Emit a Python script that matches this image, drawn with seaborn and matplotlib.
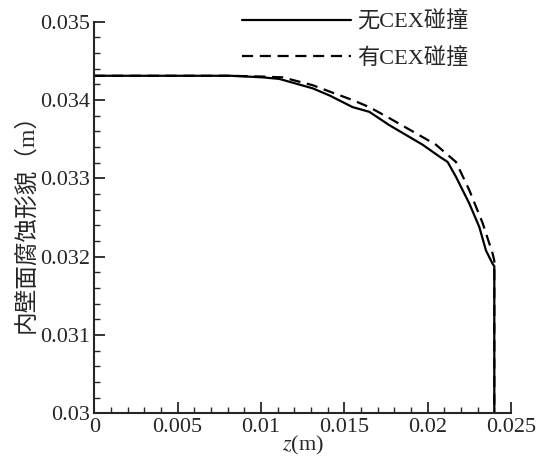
import numpy as np
import pandas as pd
import matplotlib
matplotlib.use("Agg")
import matplotlib.pyplot as plt
import seaborn as sns
from matplotlib.ticker import MultipleLocator, FuncFormatter

z_no = [0.0, 0.004, 0.0082, 0.0101, 0.0111, 0.0131, 0.0141, 0.0155, 0.0165, 0.0177,
        0.0189, 0.0197, 0.0207, 0.0212, 0.0217, 0.0225, 0.0231, 0.0235, 0.0239, 0.0240, 0.0240]
y_no = [0.03431, 0.03431, 0.03431, 0.03429, 0.03427, 0.03415, 0.03406, 0.03391, 0.03385, 0.03368,
        0.03353, 0.03343, 0.03328, 0.03321, 0.03302, 0.03268, 0.03238, 0.03208, 0.03191, 0.03188, 0.0300]

z_cex = [0.0, 0.004, 0.0082, 0.0101, 0.0113, 0.0131, 0.0141, 0.0155, 0.0165, 0.0177,
         0.0191, 0.0205, 0.0217, 0.0225, 0.0233, 0.0239, 0.0240, 0.0240]
y_cex = [0.03431, 0.03431, 0.03431, 0.0343, 0.03429, 0.03419, 0.03411, 0.03400, 0.03391, 0.03377,
         0.0336, 0.03343, 0.03321, 0.03285, 0.03243, 0.03204, 0.03195, 0.0300]

labels = ["无CEX碰撞", "有CEX碰撞"]

df = pd.concat([
    pd.DataFrame({"z": z_no, "y": y_no, "case": labels[0]}),
    pd.DataFrame({"z": z_cex, "y": y_cex, "case": labels[1]}),
])

sns.set_style("ticks")
fonts = ["Liberation Serif", "Noto Sans CJK SC", "DejaVu Sans"]
plt.rcParams["font.family"] = fonts
plt.rcParams["mathtext.fontset"] = "stix"
plt.rcParams["xtick.direction"] = "in"
plt.rcParams["ytick.direction"] = "in"

fig = plt.figure(figsize=(5.39, 4.62), dpi=100)
ax = fig.add_axes([0.175, 0.105, 0.773, 0.848])

sns.lineplot(data=df, x="z", y="y", hue="case", style="case",
             palette=["black", "black"], dashes=[(None, None), (5, 3)],
             sort=False, estimator=None, linewidth=1.6, ax=ax)

ax.set_xlim(0, 0.025)
ax.set_ylim(0.03, 0.035)
ax.xaxis.set_major_locator(MultipleLocator(0.005))
ax.xaxis.set_minor_locator(MultipleLocator(0.001))
ax.yaxis.set_major_locator(MultipleLocator(0.001))
ax.yaxis.set_minor_locator(MultipleLocator(0.0002))
fmt = FuncFormatter(lambda v, p: "%g" % round(v, 6))
ax.xaxis.set_major_formatter(fmt)
ax.yaxis.set_major_formatter(fmt)
ax.tick_params(which="major", length=8, width=1.3, labelsize=16, pad=3)
ax.tick_params(which="minor", length=4, width=1)

for s in ["top", "right"]:
    ax.spines[s].set_visible(False)
for s in ["left", "bottom"]:
    ax.spines[s].set_linewidth(1.5)

ax.set_xlabel("$z$(m)", fontsize=16, labelpad=-2)
ax.set_ylabel("内壁面腐蚀形貌（m）", fontsize=17, labelpad=2)

leg = ax.legend(loc="upper right", bbox_to_anchor=(0.92, 1.05), frameon=False,
                borderaxespad=0, handlelength=4.9, fontsize=16, labelspacing=0.72,
                handletextpad=0.3, title=None)
for t in leg.get_texts():
    t.set_family(fonts)

fig.savefig("out.png", dpi=100)
